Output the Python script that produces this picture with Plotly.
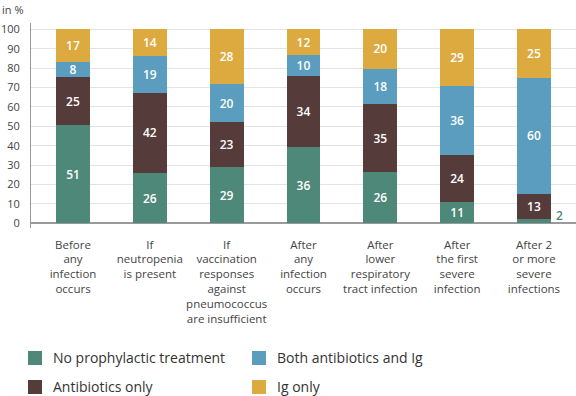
import plotly.graph_objects as go

categories = [
    "Before<br>any<br>infection<br>occurs",
    "If<br>neutropenia<br>is present",
    "If<br>vaccination<br>responses<br>against<br>pneumococcus<br>are insufficient",
    "After<br>any<br>infection<br>occurs",
    "After<br>lower<br>respiratory<br>tract infection",
    "After<br>the first<br>severe<br>infection",
    "After 2<br>or more<br>severe<br>infections",
]
no_prophylactic = [51, 26, 29, 36, 26, 11, 2]
antibiotics_only = [25, 42, 23, 34, 35, 24, 13]
both_ab_ig = [8, 19, 20, 10, 18, 36, 60]
ig_only = [17, 14, 28, 12, 20, 29, 25]
y_ticks = [0, 10, 20, 30, 40, 50, 60, 70, 80, 90, 100]

series = [
    ("No prophylactic treatment", no_prophylactic, "#4d8878"),
    ("Antibiotics only", antibiotics_only, "#563b3b"),
    ("Both antibiotics and Ig", both_ab_ig, "#5b9dbe"),
    ("Ig only", ig_only, "#dcaa3f"),
]
legend_order = [0, 2, 1, 3]

FONT = "Open Sans"
xs = list(range(len(categories)))
totals = [sum(s[1][i] for s in series) for i in xs]

fig = go.Figure()
for name, vals, color in series:
    fig.add_trace(go.Bar(
        x=xs, y=vals, name=name, marker=dict(color=color, line=dict(width=0)),
        width=0.44,
        text=[str(v) if v >= 5 else "" for v in vals],
        textposition="inside", insidetextanchor="middle", textangle=0,
        constraintext="none",
        textfont=dict(family=FONT, size=12, color="white", weight=600),
        showlegend=False, hoverinfo="skip",
    ))
    for i, v in enumerate(vals):
        if v < 5:
            fig.add_annotation(x=i, y=v / totals[i] * 50, xref="x", yref="y", text=str(v),
                               showarrow=False, xshift=26, yshift=6,
                               font=dict(family=FONT, size=12, color=color, weight=600))

# manual legend
L, W, B, H = 31, 545, 228, 205
def px(x):
    return (x - L) / W
def py(y):
    return (B - y) / H
legend_pos = [(28, 358), (252, 358), (28, 387), (252, 387)]
for (lx, ly), idx in zip(legend_pos, legend_order):
    name, vals, color = series[idx]
    fig.add_shape(type="rect", xref="paper", yref="paper",
                  x0=px(lx), x1=px(lx + 14), y0=py(ly + 7), y1=py(ly - 7),
                  fillcolor=color, line=dict(width=0))
    fig.add_annotation(xref="paper", yref="paper", x=px(lx + 23), y=py(ly - 1),
                       xanchor="left", yanchor="middle", text=name, showarrow=False,
                       font=dict(family=FONT, size=14, color="#333333"))

fig.add_annotation(xref="paper", yref="paper", x=px(0), y=py(10), xanchor="left",
                   yanchor="middle", text="in %", showarrow=False,
                   font=dict(family=FONT, size=11, color="#444444"))

fig.update_layout(
    barmode="stack", barnorm="percent",
    width=576, height=396,
    margin=dict(l=31, r=0, t=23, b=168),
    plot_bgcolor="white", paper_bgcolor="white",
    font=dict(family=FONT, size=11, color="#444444"),
    xaxis=dict(tickmode="array", tickvals=xs, ticktext=categories,
               range=[-0.547, 6.547], showgrid=False, zeroline=False,
               showline=False, ticks="", ticklabelstandoff=8,
               tickfont=dict(size=11.5, color="#444444")),
    yaxis=dict(range=[-2.5, 103.3], tickvals=y_ticks, showgrid=True,
               gridcolor="#e3e3e3", gridwidth=1, zeroline=True, zerolinecolor="#9a9a9a",
               zerolinewidth=1.5, showline=True, linecolor="#9a9a9a", linewidth=1,
               ticks="", ticklabelstandoff=8, automargin=False,
               tickfont=dict(size=11, color="#444444")),
)

fig.write_html("out.html", post_script="document.body.style.margin='0';",
               config={"displayModeBar": False})
